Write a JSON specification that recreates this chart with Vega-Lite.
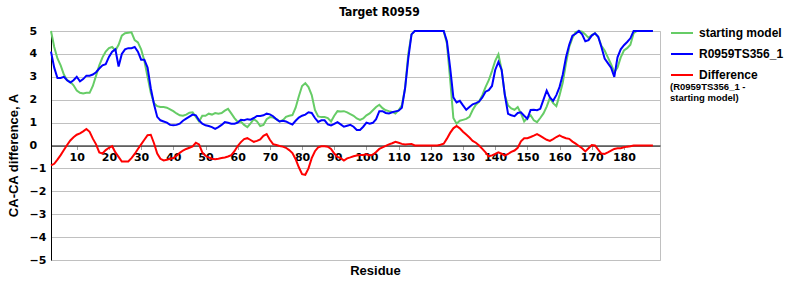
{
"$schema": "https://vega.github.io/schema/vega-lite/v6.json",
"autosize": "none",
"width": 609, "height": 229,
"padding": {"left": 51, "top": 31, "right": 140, "bottom": 40},
"background": "white",
"title": {"text": "Target R0959", "font": "DejaVu Sans Condensed", "fontSize": 12, "fontWeight": "bold", "color": "black", "anchor": "middle", "dx": 24, "offset": 2},
"config": {"view": {"stroke": "#c0c0c0", "strokeWidth": 1}},
"data": {"values": [
{"r":2,"s":5.0,"m":4.1,"d":-0.87},{"r":3,"s":4.3,"m":3.4,"d":-0.8},{"r":4,"s":3.8,"m":2.95,"d":-0.62},{"r":5,"s":3.5,"m":2.95,"d":-0.42},{"r":6,"s":3.1,"m":3.0,"d":-0.2},{"r":7,"s":2.85,"m":2.85,"d":0.02},{"r":8,"s":2.78,"m":2.75,"d":0.22},{"r":9,"s":2.63,"m":2.85,"d":0.36},{"r":10,"s":2.4,"m":3.0,"d":0.47},
{"r":11,"s":2.3,"m":2.8,"d":0.53},{"r":12,"s":2.27,"m":2.9,"d":0.62},{"r":13,"s":2.3,"m":3.05,"d":0.72},{"r":14,"s":2.3,"m":3.05,"d":0.6},{"r":15,"s":2.6,"m":3.1,"d":0.3},{"r":16,"s":3.05,"m":3.2,"d":0.05},{"r":17,"s":3.5,"m":3.36,"d":-0.3},{"r":18,"s":3.85,"m":3.5,"d":-0.35},{"r":19,"s":4.1,"m":3.55,"d":-0.2},{"r":20,"s":4.25,"m":3.87,"d":-0.1},
{"r":21,"s":4.3,"m":4.1,"d":-0.03},{"r":22,"s":4.15,"m":4.2,"d":-0.3},{"r":23,"s":4.4,"m":3.45,"d":-0.5},{"r":24,"s":4.8,"m":4.0,"d":-0.7},{"r":25,"s":4.9,"m":4.2,"d":-0.7},{"r":26,"s":4.92,"m":4.25,"d":-0.7},{"r":27,"s":4.94,"m":4.25,"d":-0.55},{"r":28,"s":4.6,"m":4.3,"d":-0.37},{"r":29,"s":4.5,"m":4.1,"d":-0.15},{"r":30,"s":4.2,"m":3.75,"d":0.05},
{"r":31,"s":3.7,"m":3.75,"d":0.25},{"r":32,"s":3.0,"m":3.4,"d":0.45},{"r":33,"s":2.3,"m":2.5,"d":0.47},{"r":34,"s":1.85,"m":1.8,"d":0.1},{"r":35,"s":1.72,"m":1.25,"d":-0.35},{"r":36,"s":1.68,"m":1.1,"d":-0.58},{"r":37,"s":1.68,"m":1.05,"d":-0.65},{"r":38,"s":1.65,"m":1.0,"d":-0.62},{"r":39,"s":1.58,"m":0.9,"d":-0.58},{"r":40,"s":1.5,"m":0.88,"d":-0.55},
{"r":41,"s":1.4,"m":0.9,"d":-0.45},{"r":42,"s":1.32,"m":0.95,"d":-0.32},{"r":43,"s":1.3,"m":1.08,"d":-0.22},{"r":44,"s":1.35,"m":1.17,"d":-0.15},{"r":45,"s":1.43,"m":1.26,"d":-0.1},{"r":46,"s":1.45,"m":1.35,"d":-0.04},{"r":47,"s":1.25,"m":1.32,"d":0.12},{"r":48,"s":1.05,"m":1.1,"d":0.05},{"r":49,"s":1.3,"m":0.95,"d":-0.3},{"r":50,"s":1.3,"m":0.88,"d":-0.45},
{"r":51,"s":1.39,"m":0.85,"d":-0.52},{"r":52,"s":1.35,"m":0.8,"d":-0.58},{"r":53,"s":1.42,"m":0.73,"d":-0.6},{"r":54,"s":1.39,"m":0.8,"d":-0.58},{"r":55,"s":1.42,"m":0.9,"d":-0.55},{"r":56,"s":1.52,"m":1.02,"d":-0.52},{"r":57,"s":1.6,"m":0.99,"d":-0.48},{"r":58,"s":1.4,"m":0.95,"d":-0.42},{"r":59,"s":1.2,"m":0.95,"d":-0.25},{"r":60,"s":1.03,"m":1.0,"d":-0.02},
{"r":61,"s":1.05,"m":1.12,"d":0.15},{"r":62,"s":0.9,"m":1.1,"d":0.28},{"r":63,"s":0.8,"m":1.15,"d":0.32},{"r":64,"s":0.97,"m":1.13,"d":0.24},{"r":65,"s":1.15,"m":1.2,"d":0.16},{"r":66,"s":1.05,"m":1.29,"d":0.2},{"r":67,"s":0.85,"m":1.29,"d":0.27},{"r":68,"s":0.9,"m":1.32,"d":0.42},{"r":69,"s":1.15,"m":1.39,"d":0.5},{"r":70,"s":1.24,"m":1.36,"d":0.25},
{"r":71,"s":1.22,"m":1.28,"d":0.06},{"r":72,"s":1.15,"m":1.15,"d":0.02},{"r":73,"s":1.05,"m":1.05,"d":-0.02},{"r":74,"s":1.1,"m":1.08,"d":-0.05},{"r":75,"s":1.25,"m":1.05,"d":-0.1},{"r":76,"s":1.3,"m":0.98,"d":-0.2},{"r":77,"s":1.33,"m":0.92,"d":-0.33},{"r":78,"s":1.65,"m":1.08,"d":-0.6},{"r":79,"s":2.15,"m":1.22,"d":-0.95},{"r":80,"s":2.6,"m":1.3,"d":-1.25},
{"r":81,"s":2.72,"m":1.35,"d":-1.28},{"r":82,"s":2.55,"m":1.45,"d":-1.0},{"r":83,"s":2.2,"m":1.42,"d":-0.55},{"r":84,"s":1.55,"m":1.2,"d":-0.25},{"r":85,"s":1.27,"m":1.03,"d":-0.08},{"r":86,"s":1.24,"m":1.1,"d":-0.03},{"r":87,"s":1.24,"m":1.1,"d":-0.03},{"r":88,"s":1.2,"m":0.92,"d":-0.05},{"r":89,"s":1.05,"m":0.88,"d":-0.15},{"r":90,"s":1.3,"m":0.94,"d":-0.35},
{"r":91,"s":1.5,"m":1.02,"d":-0.5},{"r":92,"s":1.48,"m":0.92,"d":-0.55},{"r":93,"s":1.5,"m":0.82,"d":-0.66},{"r":94,"s":1.45,"m":0.86,"d":-0.56},{"r":95,"s":1.37,"m":0.9,"d":-0.52},{"r":96,"s":1.3,"m":0.82,"d":-0.47},{"r":97,"s":1.18,"m":0.68,"d":-0.44},{"r":98,"s":1.12,"m":0.68,"d":-0.42},{"r":99,"s":1.18,"m":0.82,"d":-0.41},{"r":100,"s":1.32,"m":1.0,"d":-0.38},
{"r":101,"s":1.4,"m":0.95,"d":-0.43},{"r":102,"s":1.54,"m":0.99,"d":-0.4},{"r":103,"s":1.68,"m":1.15,"d":-0.28},{"r":104,"s":1.78,"m":1.5,"d":-0.15},{"r":105,"s":1.63,"m":1.5,"d":-0.08},{"r":106,"s":1.54,"m":1.42,"d":-0.02},{"r":107,"s":1.5,"m":1.4,"d":0.05},{"r":108,"s":1.47,"m":1.45,"d":0.1},{"r":109,"s":1.4,"m":1.49,"d":0.16},{"r":110,"s":1.54,"m":1.52,"d":0.12},
{"r":111,"s":1.75,"m":1.65,"d":0.07},{"r":112,"s":2.5,"m":2.5,"d":0.04},{"r":113,"s":4.0,"m":3.8,"d":0.06},{"r":114,"s":4.85,"m":4.85,"d":0.07},{"r":115,"s":5.0,"m":5.0,"d":0.0},{"r":116,"s":5.0,"m":5.0,"d":0.0},{"r":117,"s":5.0,"m":5.0,"d":0.0},{"r":118,"s":5.0,"m":5.0,"d":0.0},{"r":119,"s":5.0,"m":5.0,"d":0.0},{"r":120,"s":5.0,"m":5.0,"d":0.0},
{"r":121,"s":5.0,"m":5.0,"d":0.0},{"r":122,"s":5.0,"m":5.0,"d":0.0},{"r":123,"s":5.0,"m":5.0,"d":0.03},{"r":124,"s":5.0,"m":5.0,"d":0.08},{"r":125,"s":4.45,"m":4.55,"d":0.3},{"r":126,"s":2.9,"m":3.4,"d":0.55},{"r":127,"s":1.2,"m":2.1,"d":0.75},{"r":128,"s":0.95,"m":1.88,"d":0.85},{"r":129,"s":1.08,"m":1.95,"d":0.75},{"r":130,"s":1.12,"m":1.75,"d":0.6},
{"r":131,"s":1.16,"m":1.56,"d":0.48},{"r":132,"s":1.25,"m":1.68,"d":0.35},{"r":133,"s":1.55,"m":1.8,"d":0.2},{"r":134,"s":1.78,"m":1.85,"d":0.12},{"r":135,"s":1.92,"m":1.92,"d":0.0},{"r":136,"s":2.2,"m":2.1,"d":-0.15},{"r":137,"s":2.55,"m":2.35,"d":-0.3},{"r":138,"s":2.85,"m":2.42,"d":-0.47},{"r":139,"s":3.25,"m":2.6,"d":-0.43},{"r":140,"s":3.7,"m":3.3,"d":-0.37},
{"r":141,"s":3.98,"m":3.65,"d":-0.3},{"r":142,"s":3.3,"m":3.3,"d":-0.36},{"r":143,"s":2.2,"m":2.2,"d":-0.44},{"r":144,"s":1.75,"m":1.38,"d":-0.37},{"r":145,"s":1.62,"m":1.32,"d":-0.28},{"r":146,"s":1.56,"m":1.28,"d":-0.22},{"r":147,"s":1.68,"m":1.42,"d":-0.1},{"r":148,"s":1.4,"m":1.45,"d":0.18},{"r":149,"s":1.05,"m":1.3,"d":0.32},{"r":150,"s":1.2,"m":1.17,"d":0.32},
{"r":151,"s":1.32,"m":1.55,"d":0.37},{"r":152,"s":1.1,"m":1.56,"d":0.43},{"r":153,"s":1.02,"m":1.54,"d":0.5},{"r":154,"s":1.2,"m":1.6,"d":0.42},{"r":155,"s":1.4,"m":2.0,"d":0.33},{"r":156,"s":1.7,"m":2.4,"d":0.25},{"r":157,"s":2.08,"m":2.1,"d":0.2},{"r":158,"s":1.85,"m":1.95,"d":0.28},{"r":159,"s":1.72,"m":2.2,"d":0.37},{"r":160,"s":2.2,"m":2.56,"d":0.44},
{"r":161,"s":2.75,"m":3.1,"d":0.37},{"r":162,"s":3.6,"m":3.85,"d":0.32},{"r":163,"s":4.3,"m":4.4,"d":0.29},{"r":164,"s":4.7,"m":4.8,"d":0.17},{"r":165,"s":4.95,"m":4.88,"d":0.08},{"r":166,"s":5.0,"m":5.0,"d":-0.02},{"r":167,"s":4.97,"m":4.85,"d":-0.12},{"r":168,"s":4.85,"m":4.55,"d":-0.26},{"r":169,"s":4.7,"m":4.6,"d":-0.12},{"r":170,"s":4.82,"m":4.8,"d":0.02},
{"r":171,"s":4.9,"m":4.9,"d":0.0},{"r":172,"s":4.75,"m":4.75,"d":-0.18},{"r":173,"s":4.35,"m":4.3,"d":-0.35},{"r":174,"s":4.15,"m":3.8,"d":-0.37},{"r":175,"s":3.85,"m":3.6,"d":-0.3},{"r":176,"s":3.55,"m":3.4,"d":-0.22},{"r":177,"s":3.2,"m":3.0,"d":-0.15},{"r":178,"s":3.4,"m":3.85,"d":-0.12},{"r":179,"s":3.85,"m":4.2,"d":-0.12},{"r":180,"s":4.15,"m":4.38,"d":-0.08},
{"r":181,"s":4.25,"m":4.52,"d":-0.05},{"r":182,"s":4.4,"m":4.68,"d":-0.03},{"r":183,"s":4.9,"m":5.0,"d":0.0},{"r":184,"s":5.0,"m":5.0,"d":0.0},{"r":185,"s":5.0,"m":5.0,"d":0.0},{"r":186,"s":5.0,"m":5.0,"d":0.0},{"r":187,"s":5.0,"m":5.0,"d":0.0},{"r":188,"s":5.0,"m":5.0,"d":0.0},{"r":189,"s":5.0,"m":5.0,"d":0.0}
]},
"encoding": {
  "x": {"field": "r", "type": "quantitative", "scale": {"domain": [2, 191.2], "nice": false, "zero": false},
    "axis": {"values": [10,20,30,40,50,60,70,80,90,100,110,120,130,140,150,160,170,180], "offset": -114.5, "grid": false,
      "domainColor": "black", "domainWidth": 1, "tickColor": "#a0a0a0", "tickSize": 4, "labelFont": "DejaVu Sans", "labelFontWeight": "bold", "labelFontSize": 11, "labelColor": "black", "labelPadding": 2, "labelFlush": false, "labelOverlap": false,
      "title": "Residue", "titleFont": "Liberation Sans", "titleFontSize": 13, "titleFontWeight": "bold", "titleColor": "black", "titleX": 324, "titleY": 125, "titleBaseline": "middle", "titleAlign": "center"}},
  "y": {"type": "quantitative", "scale": {"domain": [-5, 5], "nice": false},
       "axis": {"values": [-5,-4,-3,-2,-1,0,1,2,3,4,5], "grid": true, "gridColor": "#c0c0c0", "gridWidth": 1, "domainColor": "black", "domainWidth": 1, "ticks": false, "tickSize": 0,
         "labelAlign": "left", "labelPadding": 22, "labelFont": "DejaVu Sans", "labelFontWeight": "bold", "labelFontSize": 11, "labelColor": "black", "labelFlush": false, "labelOverlap": false,
         "title": "CA-CA difference, A", "titleFont": "Liberation Sans", "titleFontSize": 13, "titleFontWeight": "bold", "titleColor": "black", "titleX": -38, "titleY": 124, "titleAngle": -90, "titleBaseline": "middle", "titleAlign": "center"}}
},
"layer": [
  {"mark": {"type": "line", "strokeWidth": 2},
   "encoding": {
     "y": {"field": "s", "type": "quantitative", "title": "CA-CA difference, A"},
     "color": {"datum": "starting model", "type": "nominal",
       "scale": {"domain": ["starting model", "R0959TS356_1", "Difference"], "range": ["#66cc66", "#0000ff", "#ff0000"]},
       "legend": {"orient": "none", "legendX": 619, "legendY": -10, "symbolType": "stroke", "symbolStrokeWidth": 2, "symbolSize": 484, "labelOffset": 5,
         "labelFont": "Liberation Sans", "labelFontWeight": "bold", "labelFontSize": 12, "labelColor": "black", "rowPadding": 3, "padding": 0,
         "title": ["(R0959TS356_1 -", "      starting model)"], "titleOrient": "bottom", "titleAnchor": "start", "titleFont": "Liberation Sans", "titleFontSize": 9.5, "titleFontWeight": "bold", "titleColor": "black", "titleLineHeight": 11, "titlePadding": 1}}
   }},
  {"mark": {"type": "line", "strokeWidth": 2},
   "encoding": {"y": {"field": "m", "type": "quantitative", "title": "CA-CA difference, A"}, "color": {"datum": "R0959TS356_1", "type": "nominal"}}},
  {"mark": {"type": "line", "strokeWidth": 2},
   "encoding": {"y": {"field": "d", "type": "quantitative", "title": "CA-CA difference, A"}, "color": {"datum": "Difference", "type": "nominal"}}}
]
}
